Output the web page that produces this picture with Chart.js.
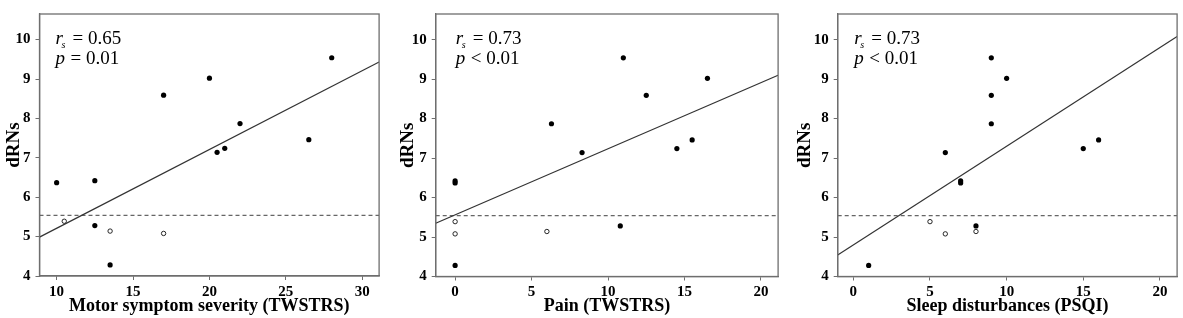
<!DOCTYPE html>
<html><head><meta charset="utf-8">
<script src="https://cdn.jsdelivr.net/npm/chart.js@4.4.0/dist/chart.umd.min.js"></script>
<style>
html,body{margin:0;padding:0;background:#fff;width:1183px;height:318px;overflow:hidden;}
.c{position:absolute;top:0;height:318px;}
</style></head><body>
<div class="c" style="left:0px;width:384px"><canvas id="c1"></canvas></div>
<div class="c" style="left:395px;width:388px"><canvas id="c2"></canvas></div>
<div class="c" style="left:790px;width:392px"><canvas id="c3"></canvas></div>
<script>
// ---- data ----
const dRNsFilled = [6.37, 6.42, 5.28, 4.28, 8.59, 9.02, 7.14, 7.24, 7.87, 7.46, 9.54];
const dRNsOpen   = [5.39, 5.14, 5.08];
const motorFilled = [10, 12.5, 12.5, 13.5, 17, 20, 20.5, 21, 22, 26.5, 28];
const motorOpen   = [10.5, 13.5, 17];
const painFilled  = [0, 0, 10.8, 0, 12.5, 16.5, 8.3, 14.5, 6.3, 15.5, 11];
const painOpen    = [0, 6, 0];
const sleepFilled = [7, 7, 8, 1, 9, 10, 6, 15, 9, 16, 9];
const sleepOpen   = [5, 8, 6];
const motorTicks = [10, 15, 20, 25, 30];
const painTicks  = [0, 5, 10, 15, 20];
const sleepTicks = [0, 5, 10, 15, 20];
const yTicks = [4, 5, 6, 7, 8, 9, 10];
const cutoff = 5.54;
const motorFit = [3.21, 0.200];   // intercept, slope
const painFit  = [5.56, 0.1675];
const sleepFit = [4.80, 0.250];
const motorRange = [8.88, 31.1];
const painRange  = [-1.27, 21.12];
const sleepRange = [-1.02, 21.12];
const yRange = [4, 10.65];
const titles = ['Motor symptom severity (TWSTRS)', 'Pain (TWSTRS)', 'Sleep disturbances (PSQI)'];
const statR = ['0.65', '0.73', '0.73'];
const statP = ['= 0.01', '< 0.01', '< 0.01'];

const SERIF = '"Liberation Serif", "Times New Roman", serif';

const framePlugin = {
  id: 'frame',
  afterDraw(chart) {
    const {ctx, chartArea: a} = chart;
    ctx.save();
    ctx.strokeStyle = '#6e6e6e';
    ctx.lineWidth = 1.3;
    ctx.strokeRect(a.left, a.top, a.right - a.left, a.bottom - a.top);
    const o = chart.options.plugins.stat;
    const x0 = a.left + o.dx, y0 = a.top + 30.3;
    ctx.fillStyle = '#000';
    ctx.textBaseline = 'alphabetic';
    ctx.font = 'italic 19px ' + SERIF;
    ctx.fillText('r', x0, y0);
    ctx.font = 'italic 10px ' + SERIF;
    ctx.fillText('s', x0 + 6, y0 + 4);
    ctx.font = '19px ' + SERIF;
    ctx.fillText('= ' + o.r, x0 + 17, y0);
    ctx.font = 'italic 19px ' + SERIF;
    ctx.fillText('p', x0, y0 + 20);
    ctx.font = '19px ' + SERIF;
    ctx.fillText(o.p, x0 + 15, y0 + 20);
    ctx.restore();
  }
};

function makeChart(id, xf, xo, ticks, range, fit, title, r, p, lay) {
  const filled = xf.map((x, i) => ({x, y: dRNsFilled[i]}));
  const open = xo.map((x, i) => ({x, y: dRNsOpen[i]}));
  const fitLine = range.map(x => ({x, y: fit[0] + fit[1] * x}));
  const cutLine = range.map(x => ({x, y: cutoff}));
  new Chart(document.getElementById(id), {
    type: 'scatter',
    data: { datasets: [
      { data: filled, pointRadius: 2.6, pointBackgroundColor: '#000', pointBorderWidth: 0, pointHoverRadius: 2.6 },
      { data: open, pointRadius: 2.2, pointBackgroundColor: '#fff', pointBorderColor: '#111', pointBorderWidth: 0.9 },
      { data: fitLine, showLine: true, pointRadius: 0, borderColor: '#333', borderWidth: 1.2 },
      { data: cutLine, showLine: true, pointRadius: 0, borderColor: '#666', borderWidth: 1.2, borderDash: [4, 3] }
    ]},
    options: {
      responsive: true, maintainAspectRatio: false, animation: false,
      layout: { padding: { top: lay.top, right: 1, left: 0, bottom: 0 } },
      plugins: { legend: { display: false }, tooltip: { enabled: false },
        stat: { dx: lay.dx, r: r, p: p } },
      scales: {
        x: {
          type: 'linear', min: range[0], max: range[1],
          afterBuildTicks: s => { s.ticks = ticks.map(v => ({value: v})); },
          afterFit: s => { s.height = 318 - lay.bottom; },
          grid: { drawOnChartArea: false, drawTicks: true, tickLength: 4, color: '#6e6e6e', lineWidth: 1 },
          border: { display: true, color: '#6e6e6e', width: 1.3 },
          ticks: { color: '#000', padding: 3, maxRotation: 0, font: { family: SERIF, size: 15, weight: 'bold' } },
          title: { display: true, text: title, color: '#000', padding: { top: 0, bottom: 1 },
                   font: { family: SERIF, size: 18, weight: 'bold' } }
        },
        y: {
          type: 'linear', min: yRange[0], max: yRange[1],
          afterBuildTicks: s => { s.ticks = yTicks.map(v => ({value: v})); },
          afterFit: s => { s.width = lay.yw; },
          grid: { drawOnChartArea: false, drawTicks: true, tickLength: 4, color: '#6e6e6e', lineWidth: 1 },
          border: { display: true, color: '#6e6e6e', width: 1.3 },
          ticks: { color: '#000', padding: 5, font: { family: SERIF, size: 15, weight: 'bold' } },
          title: { display: true, text: 'dRNs', color: '#000', padding: { top: lay.tp, bottom: 0 },
                   font: { family: SERIF, size: 19, weight: 'bold' } }
        }
      }
    },
    plugins: [framePlugin]
  });
}

makeChart('c1', motorFilled, motorOpen, motorTicks, motorRange, motorFit, titles[0], statR[0], statP[0],
  { top: 3, bottom: 276, yw: 39.5, tp: 2.5, dx: 16 });
makeChart('c2', painFilled, painOpen, painTicks, painRange, painFit, titles[1], statR[1], statP[1],
  { top: 4, bottom: 276.5, yw: 40.7, tp: 2, dx: 20 });
makeChart('c3', sleepFilled, sleepOpen, sleepTicks, sleepRange, sleepFit, titles[2], statR[2], statP[2],
  { top: 4, bottom: 276.5, yw: 47.7, tp: 3.5, dx: 16.5 });
</script>
</body></html>
